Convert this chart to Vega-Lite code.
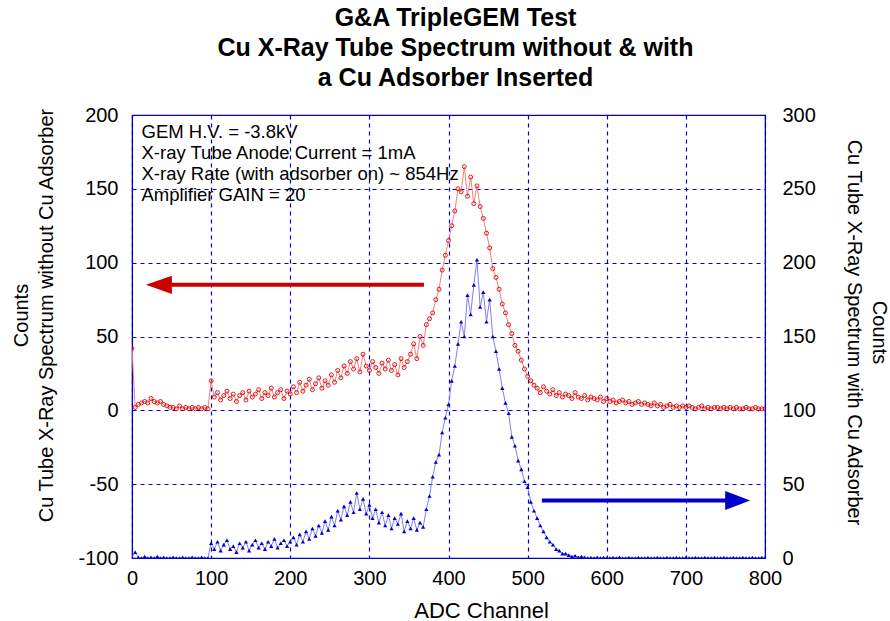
{
  "$schema": "https://vega.github.io/schema/vega-lite/v6.json",
  "width": 633,
  "height": 443,
  "autosize": "none",
  "padding": {"left": 132, "top": 115, "right": 125, "bottom": 63},
  "background": "white",
  "config": {
    "view": {"stroke": "#0000cc", "strokeWidth": 1.2},
    "axis": {
      "labelFont": "Liberation Sans",
      "titleFont": "Liberation Sans",
      "labelColor": "black",
      "titleColor": "black",
      "labelFontSize": 20,
      "titleFontSize": 20,
      "titleFontWeight": "normal",
      "domainColor": "#0000cc",
      "ticks": false,
      "labelFlush": false,
      "labelExpr": "'' + datum.value",
      "grid": true,
      "gridColor": "#0000cc",
      "gridDash": [4, 4],
      "gridWidth": 1.2
    },
    "axisX": {"labelPadding": 10, "titleFontSize": 22, "titleX": 349, "titleY": 52, "titleBaseline": "middle", "titleAlign": "center"},
    "axisLeft": {"labelPadding": 14, "titleLineHeight": 25.5, "titleX": -111, "titleY": 200, "titleBaseline": "middle", "titleAlign": "center", "titleAngle": 270},
    "axisRight": {"grid": false, "labelPadding": 17, "titleLineHeight": 25, "titleAngle": 90, "titleX": 113, "titleY": 217, "titleBaseline": "middle", "titleAlign": "center"}
  },
  "title": {
    "text": ["G&A TripleGEM Test", "Cu X-Ray Tube Spectrum without & with", "a Cu Adsorber Inserted"],
    "font": "Liberation Sans",
    "fontSize": 25,
    "fontWeight": "bold",
    "lineHeight": 30,
    "anchor": "middle",
    "dx": 7,
    "offset": 14,
    "color": "black"
  },
  "datasets": {
    "spectrum": [
      {"channel":0,"without":42,"with":0.5},
      {"channel":4,"without":2,"with":4},
      {"channel":8,"without":4,"with":0.5},
      {"channel":12,"without":5,"with":0},
      {"channel":16,"without":6,"with":1},
      {"channel":20,"without":5,"with":0},
      {"channel":24,"without":8,"with":0.5},
      {"channel":28,"without":6,"with":0},
      {"channel":32,"without":5,"with":1},
      {"channel":36,"without":6,"with":0},
      {"channel":40,"without":4,"with":0.5},
      {"channel":44,"without":3,"with":0},
      {"channel":48,"without":2,"with":0},
      {"channel":52,"without":2,"with":0.5},
      {"channel":56,"without":1,"with":0},
      {"channel":60,"without":3,"with":0},
      {"channel":64,"without":1,"with":0.5},
      {"channel":68,"without":2,"with":0},
      {"channel":72,"without":1,"with":0},
      {"channel":76,"without":2,"with":0.5},
      {"channel":80,"without":1,"with":0},
      {"channel":84,"without":2,"with":0},
      {"channel":88,"without":1,"with":0.5},
      {"channel":92,"without":2,"with":0},
      {"channel":96,"without":1,"with":0},
      {"channel":100,"without":20,"with":10},
      {"channel":104,"without":9,"with":6},
      {"channel":108,"without":12,"with":11},
      {"channel":112,"without":7,"with":5},
      {"channel":116,"without":10,"with":9},
      {"channel":120,"without":13,"with":12},
      {"channel":124,"without":8,"with":6},
      {"channel":128,"without":11,"with":8},
      {"channel":132,"without":6,"with":4},
      {"channel":136,"without":10,"with":10},
      {"channel":140,"without":12,"with":7},
      {"channel":144,"without":7,"with":11},
      {"channel":148,"without":13,"with":5},
      {"channel":152,"without":9,"with":9},
      {"channel":156,"without":11,"with":12},
      {"channel":160,"without":14,"with":7},
      {"channel":164,"without":8,"with":10},
      {"channel":168,"without":12,"with":6},
      {"channel":172,"without":10,"with":11},
      {"channel":176,"without":15,"with":8},
      {"channel":180,"without":9,"with":13},
      {"channel":184,"without":12,"with":7},
      {"channel":188,"without":14,"with":10},
      {"channel":192,"without":8,"with":12},
      {"channel":196,"without":13,"with":8},
      {"channel":200,"without":11,"with":11},
      {"channel":204,"without":16,"with":14},
      {"channel":208,"without":12,"with":9},
      {"channel":212,"without":19,"with":16},
      {"channel":216,"without":13,"with":11},
      {"channel":220,"without":17,"with":18},
      {"channel":224,"without":21,"with":13},
      {"channel":228,"without":14,"with":20},
      {"channel":232,"without":18,"with":15},
      {"channel":236,"without":22,"with":22},
      {"channel":240,"without":15,"with":17},
      {"channel":244,"without":20,"with":25},
      {"channel":248,"without":17,"with":19},
      {"channel":252,"without":24,"with":28},
      {"channel":256,"without":19,"with":22},
      {"channel":260,"without":27,"with":32},
      {"channel":264,"without":22,"with":26},
      {"channel":268,"without":30,"with":35},
      {"channel":272,"without":25,"with":29},
      {"channel":276,"without":33,"with":38},
      {"channel":280,"without":28,"with":31},
      {"channel":284,"without":35,"with":44},
      {"channel":288,"without":26,"with":33},
      {"channel":292,"without":38,"with":40},
      {"channel":296,"without":30,"with":30},
      {"channel":300,"without":27,"with":36},
      {"channel":304,"without":33,"with":27},
      {"channel":308,"without":29,"with":33},
      {"channel":312,"without":25,"with":24},
      {"channel":316,"without":32,"with":31},
      {"channel":320,"without":28,"with":22},
      {"channel":324,"without":34,"with":29},
      {"channel":328,"without":27,"with":20},
      {"channel":332,"without":31,"with":27},
      {"channel":336,"without":24,"with":23},
      {"channel":340,"without":35,"with":30},
      {"channel":344,"without":29,"with":18},
      {"channel":348,"without":33,"with":25},
      {"channel":352,"without":38,"with":20},
      {"channel":356,"without":45,"with":27},
      {"channel":360,"without":35,"with":19},
      {"channel":364,"without":50,"with":24},
      {"channel":368,"without":44,"with":21},
      {"channel":372,"without":58,"with":33},
      {"channel":376,"without":62,"with":42},
      {"channel":380,"without":66,"with":55},
      {"channel":384,"without":75,"with":65},
      {"channel":388,"without":82,"with":70},
      {"channel":392,"without":95,"with":85},
      {"channel":396,"without":105,"with":95},
      {"channel":400,"without":115,"with":104},
      {"channel":404,"without":125,"with":120},
      {"channel":408,"without":135,"with":130},
      {"channel":412,"without":150,"with":145},
      {"channel":416,"without":148,"with":160},
      {"channel":420,"without":165,"with":150},
      {"channel":424,"without":145,"with":178},
      {"channel":428,"without":158,"with":165},
      {"channel":432,"without":140,"with":185},
      {"channel":436,"without":152,"with":202},
      {"channel":440,"without":138,"with":170},
      {"channel":444,"without":130,"with":180},
      {"channel":448,"without":120,"with":160},
      {"channel":452,"without":110,"with":175},
      {"channel":456,"without":96,"with":150},
      {"channel":460,"without":90,"with":140},
      {"channel":464,"without":82,"with":128},
      {"channel":468,"without":72,"with":115},
      {"channel":472,"without":66,"with":105},
      {"channel":476,"without":58,"with":98},
      {"channel":480,"without":52,"with":82},
      {"channel":484,"without":44,"with":76},
      {"channel":488,"without":40,"with":66},
      {"channel":492,"without":34,"with":60},
      {"channel":496,"without":28,"with":52},
      {"channel":500,"without":23,"with":48},
      {"channel":504,"without":20,"with":38},
      {"channel":508,"without":17,"with":32},
      {"channel":512,"without":15,"with":27},
      {"channel":516,"without":12,"with":22},
      {"channel":520,"without":16,"with":18},
      {"channel":524,"without":13,"with":14},
      {"channel":528,"without":11,"with":11},
      {"channel":532,"without":14,"with":9},
      {"channel":536,"without":10,"with":6},
      {"channel":540,"without":12,"with":5},
      {"channel":544,"without":9,"with":3},
      {"channel":548,"without":11,"with":3},
      {"channel":552,"without":10,"with":2},
      {"channel":556,"without":8,"with":1},
      {"channel":560,"without":12,"with":1.5},
      {"channel":564,"without":9,"with":0.5},
      {"channel":568,"without":8,"with":1},
      {"channel":572,"without":10,"with":0.5},
      {"channel":576,"without":7,"with":0},
      {"channel":580,"without":9,"with":0.3},
      {"channel":584,"without":8,"with":0},
      {"channel":588,"without":7,"with":0.5},
      {"channel":592,"without":9,"with":0},
      {"channel":596,"without":6,"with":0.3},
      {"channel":600,"without":8,"with":0},
      {"channel":604,"without":6,"with":0},
      {"channel":608,"without":7,"with":0.3},
      {"channel":612,"without":5,"with":0},
      {"channel":616,"without":6,"with":0.5},
      {"channel":620,"without":7,"with":0},
      {"channel":624,"without":5,"with":0},
      {"channel":628,"without":6,"with":0.3},
      {"channel":632,"without":4,"with":0},
      {"channel":636,"without":5,"with":0},
      {"channel":640,"without":6,"with":0.3},
      {"channel":644,"without":4,"with":0},
      {"channel":648,"without":5,"with":0},
      {"channel":652,"without":4,"with":0.3},
      {"channel":656,"without":3,"with":0},
      {"channel":660,"without":5,"with":0},
      {"channel":664,"without":3,"with":0.3},
      {"channel":668,"without":4,"with":0},
      {"channel":672,"without":2,"with":0},
      {"channel":676,"without":3,"with":0.3},
      {"channel":680,"without":4,"with":0},
      {"channel":684,"without":2,"with":0},
      {"channel":688,"without":3,"with":0.3},
      {"channel":692,"without":2,"with":0},
      {"channel":696,"without":3,"with":0},
      {"channel":700,"without":2,"with":0.3},
      {"channel":704,"without":3,"with":0},
      {"channel":708,"without":2,"with":0},
      {"channel":712,"without":1,"with":0.3},
      {"channel":716,"without":2,"with":0},
      {"channel":720,"without":3,"with":0},
      {"channel":724,"without":1,"with":0.3},
      {"channel":728,"without":2,"with":0},
      {"channel":732,"without":1,"with":0},
      {"channel":736,"without":2,"with":0.3},
      {"channel":740,"without":2,"with":0},
      {"channel":744,"without":1,"with":0},
      {"channel":748,"without":2,"with":0.3},
      {"channel":752,"without":1,"with":0},
      {"channel":756,"without":2,"with":0},
      {"channel":760,"without":1,"with":0.3},
      {"channel":764,"without":2,"with":0},
      {"channel":768,"without":1,"with":0},
      {"channel":772,"without":1,"with":0.3},
      {"channel":776,"without":2,"with":0},
      {"channel":780,"without":1,"with":0},
      {"channel":784,"without":1,"with":0.3},
      {"channel":788,"without":2,"with":0},
      {"channel":792,"without":1,"with":0},
      {"channel":796,"without":1,"with":0.3},
      {"channel":800,"without":1,"with":0}
    ],
    "redArrow": [{"from": 369, "to": 45, "level": 85, "head": 34}],
    "blueArrow": [{"from": 518, "to": 755, "level": 39, "head": 765.5}],
    "notes": [
      {"line": "GEM H.V. = -3.8kV", "channel": 12, "count": 194.3},
      {"line": "X-ray Tube Anode Current = 1mA", "channel": 12, "count": 180.1},
      {"line": "X-ray Rate (with adsorber on) ~ 854Hz", "channel": 12, "count": 165.9},
      {"line": "Amplifier GAIN = 20", "channel": 12, "count": 151.7}
    ]
  },
  "layer": [
    {
      "layer": [
        {
          "data": {"name": "spectrum"},
          "mark": {"type": "line", "color": "#f08080", "strokeWidth": 1, "clip": true},
          "encoding": {
            "x": {"field": "channel", "type": "quantitative", "title": "ADC Channel",
                  "scale": {"domain": [0, 800], "nice": false, "zero": false},
                  "axis": {"values": [0,100,200,300,400,500,600,700,800]}},
            "y": {"field": "without", "type": "quantitative", "title": ["Counts", "Cu Tube X-Ray Spectrum without Cu Adsorber"],
                  "scale": {"domain": [-100, 200], "nice": false, "zero": false},
                  "axis": {"values": [-100,-50,0,50,100,150,200]}}
          }
        },
        {
          "data": {"name": "spectrum"},
          "mark": {"type": "point", "shape": "circle", "filled": false, "stroke": "#e00000", "strokeWidth": 0.9, "size": 16, "opacity": 1, "clip": true},
          "encoding": {
            "x": {"field": "channel", "type": "quantitative", "title": "ADC Channel"},
            "y": {"field": "without", "type": "quantitative", "title": ["Counts", "Cu Tube X-Ray Spectrum without Cu Adsorber"]}
          }
        },
        {
          "data": {"name": "redArrow"},
          "mark": {"type": "rule", "color": "#c80000", "strokeWidth": 4},
          "encoding": {
            "x": {"field": "from", "type": "quantitative", "title": "ADC Channel"},
            "x2": {"field": "to"},
            "y": {"field": "level", "type": "quantitative", "title": ["Counts", "Cu Tube X-Ray Spectrum without Cu Adsorber"]}
          }
        },
        {
          "data": {"name": "redArrow"},
          "mark": {"type": "point", "shape": "M-1,0L1,-0.7L1,0.7Z", "filled": true, "color": "#c80000", "size": 676, "opacity": 1},
          "encoding": {
            "x": {"field": "head", "type": "quantitative", "title": "ADC Channel"},
            "y": {"field": "level", "type": "quantitative", "title": ["Counts", "Cu Tube X-Ray Spectrum without Cu Adsorber"]}
          }
        },
        {
          "data": {"name": "notes"},
          "mark": {"type": "text", "align": "left", "baseline": "top", "font": "Liberation Sans", "fontSize": 18.5, "color": "black"},
          "encoding": {
            "x": {"field": "channel", "type": "quantitative", "title": "ADC Channel"},
            "y": {"field": "count", "type": "quantitative", "title": ["Counts", "Cu Tube X-Ray Spectrum without Cu Adsorber"]},
            "text": {"field": "line", "type": "nominal"}
          }
        }
      ]
    },
    {
      "layer": [
        {
          "data": {"name": "spectrum"},
          "mark": {"type": "line", "color": "#8080f0", "strokeWidth": 1, "clip": true},
          "encoding": {
            "x": {"field": "channel", "type": "quantitative", "title": "ADC Channel"},
            "y": {"field": "with", "type": "quantitative", "title": ["Counts", "Cu Tube X-Ray Spectrum with Cu Adsorber"],
                  "scale": {"domain": [0, 300], "nice": false, "zero": false},
                  "axis": {"orient": "right", "values": [0,50,100,150,200,250,300], "grid": false}}
          }
        },
        {
          "data": {"name": "spectrum"},
          "mark": {"type": "point", "shape": "triangle-up", "filled": true, "color": "#0000cc", "size": 18, "opacity": 1, "clip": true},
          "encoding": {
            "x": {"field": "channel", "type": "quantitative", "title": "ADC Channel"},
            "y": {"field": "with", "type": "quantitative", "title": ["Counts", "Cu Tube X-Ray Spectrum with Cu Adsorber"], "axis": {"orient": "right", "grid": false}}
          }
        },
        {
          "data": {"name": "blueArrow"},
          "mark": {"type": "rule", "color": "#0000c8", "strokeWidth": 4},
          "encoding": {
            "x": {"field": "from", "type": "quantitative", "title": "ADC Channel"},
            "x2": {"field": "to"},
            "y": {"field": "level", "type": "quantitative", "title": ["Counts", "Cu Tube X-Ray Spectrum with Cu Adsorber"], "axis": {"orient": "right", "grid": false}}
          }
        },
        {
          "data": {"name": "blueArrow"},
          "mark": {"type": "point", "shape": "M1,0L-1,-0.76L-1,0.76Z", "filled": true, "color": "#0000c8", "size": 625, "opacity": 1},
          "encoding": {
            "x": {"field": "head", "type": "quantitative", "title": "ADC Channel"},
            "y": {"field": "level", "type": "quantitative", "title": ["Counts", "Cu Tube X-Ray Spectrum with Cu Adsorber"], "axis": {"orient": "right", "grid": false}}
          }
        }
      ]
    }
  ],
  "resolve": {"scale": {"y": "independent"}}
}
